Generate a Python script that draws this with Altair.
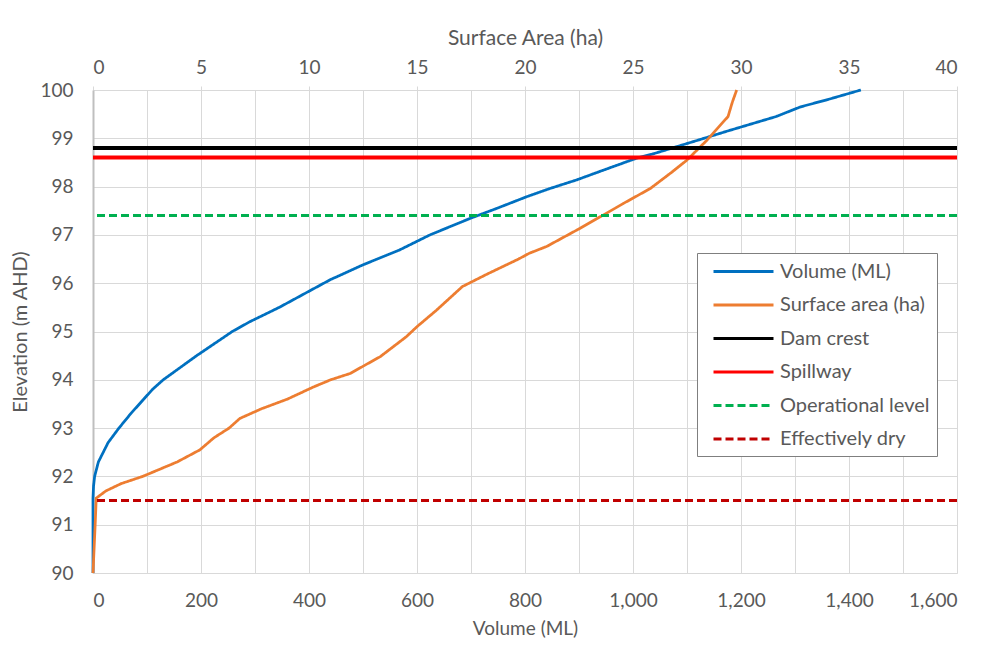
import altair as alt
import pandas as pd

# Elevation–volume curve
vol_elev = [90.0, 91.0, 91.55, 91.8, 92.0, 92.3, 92.7, 93.0, 93.3, 93.6, 93.8, 94.0, 94.5, 95.0, 95.2,
            95.5, 96.07, 96.38, 96.69, 97.0, 97.34, 97.55, 97.79, 97.96, 98.14, 98.34, 98.59, 98.67,
            98.96, 99.15, 99.45, 99.65, 99.8, 100.0]
vol_ml = [0, 0, 0, 1, 3, 10, 28, 48, 70, 94, 110, 130, 192, 258, 290,
          345, 439, 500, 568, 624, 698, 748, 803, 846, 896, 945, 1007, 1035,
          1120, 1175, 1265, 1310, 1360, 1422]

# Elevation–surface area curve
area_elev = [90.0, 91.0, 91.55, 91.7, 91.85, 92.0, 92.3, 92.55, 92.8, 93.0, 93.2, 93.4, 93.6, 93.85,
             94.0, 94.13, 94.48, 94.89, 95.1, 95.44, 95.93, 96.2, 96.35, 96.5, 96.62, 96.76, 97.1,
             97.38, 97.65, 97.96, 98.3, 98.55, 98.95, 99.2, 99.45, 99.75, 100.0]
area_ha = [0, 0.1, 0.15, 0.6, 1.3, 2.3, 3.9, 4.95, 5.6, 6.3, 6.8, 7.8, 9.0, 10.2,
           11.0, 11.9, 13.3, 14.5, 15.0, 15.9, 17.1, 18.3, 19.0, 19.7, 20.2, 21.0, 22.4,
           23.5, 24.55, 25.8, 26.8, 27.5, 28.4, 28.9, 29.4, 29.6, 29.8]

# Reference levels
level_names = ["Dam crest", "Spillway", "Operational level", "Effectively dry"]
level_values = [98.8, 98.6, 97.4, 91.5]
level_widths = [4, 4, 3, 3]

series_names = ["Volume (ML)", "Surface area (ha)", "Dam crest", "Spillway", "Operational level", "Effectively dry"]
series_colors = ["#0070C0", "#ED7D31", "#000000", "#FF0000", "#00B050", "#C00000"]
series_dash = [[1, 0], [1, 0], [1, 0], [1, 0], [8, 4], [8, 4]]

vol_df = pd.DataFrame({"elev": vol_elev, "volume": vol_ml, "series": "Volume (ML)"})
area_df = pd.DataFrame({"elev": area_elev, "area": area_ha, "series": "Surface area (ha)"})
rule_df = pd.DataFrame({"level": level_values, "series": level_names, "w": level_widths})

FONT = "Lato"
TXT = "#595959"
GRID = "#d9d9d9"

legend = alt.Legend(
    title=None, orient="none", legendX=604, legendY=163,
    symbolType="M-3,0H3", symbolSize=400, symbolStrokeWidth=3,
    symbolOffset=28, labelOffset=25,
    labelFontSize=20, labelColor=TXT, labelFont=FONT,
    rowPadding=11.5, padding=7, strokeColor="#7f7f7f", fillColor="white",
)
color = alt.Color("series:N", scale=alt.Scale(domain=series_names, range=series_colors), legend=legend)
dash = alt.StrokeDash("series:N", scale=alt.Scale(domain=series_names, range=series_dash), legend=legend)

y_enc = alt.Y(
    "elev:Q",
    scale=alt.Scale(domain=[90, 100], nice=False),
    axis=alt.Axis(title="Elevation (m AHD)", values=list(range(90, 101)), ticks=False,
                  labelPadding=20, titlePadding=9, titleFontSize=20, grid=True, gridColor=GRID,
                  domainColor="#bfbfbf", domainWidth=2),
)

vol_line = alt.Chart(vol_df).mark_line(strokeWidth=2.75).encode(
    x=alt.X("volume:Q", scale=alt.Scale(domain=[0, 1600], nice=False),
            axis=alt.Axis(title="Volume (ML)", orient="bottom", values=list(range(0, 1601, 100)),
                          labelExpr="datum.value % 200 == 0 ? format(datum.value, ',') : ''",
                          ticks=False, labelPadding=18, titlePadding=9, titleFontSize=19,
                          grid=True, gridColor=GRID, domainColor=GRID)),
    y=y_enc,
    order="elev:Q",
    color=color,
    strokeDash=dash,
)

area_line = alt.Chart(area_df).mark_line(strokeWidth=2.75).encode(
    x=alt.X("area:Q", scale=alt.Scale(domain=[0, 40], nice=False),
            axis=alt.Axis(title="Surface Area (ha)", orient="top", values=list(range(0, 41, 5)),
                          ticks=True, tickSize=4, tickColor=GRID, labelPadding=9, titlePadding=10,
                          titleFontSize=21, grid=False, domainColor=GRID)),
    y=alt.Y("elev:Q"),
    order="elev:Q",
    color=color,
    strokeDash=dash,
)

rules = alt.Chart(rule_df).mark_rule().encode(
    y=alt.Y("level:Q"),
    color=color,
    strokeDash=dash,
    strokeWidth=alt.StrokeWidth("w:Q", scale=None, legend=None),
)

chart = alt.layer(vol_line, area_line, rules).resolve_scale(x="independent").properties(
    width=864, height=483,
    autosize=alt.AutoSizeParams(type="none"),
    padding={"left": 85, "top": 82, "right": 16, "bottom": 65},
).configure(font=FONT).configure_axis(
    labelFont=FONT, labelFontSize=19, labelColor=TXT,
    titleFont=FONT, titleColor=TXT, titleFontWeight="normal",
).configure_view(stroke=None)

chart.save("out.html", embed_options={"renderer": "svg", "actions": False})
